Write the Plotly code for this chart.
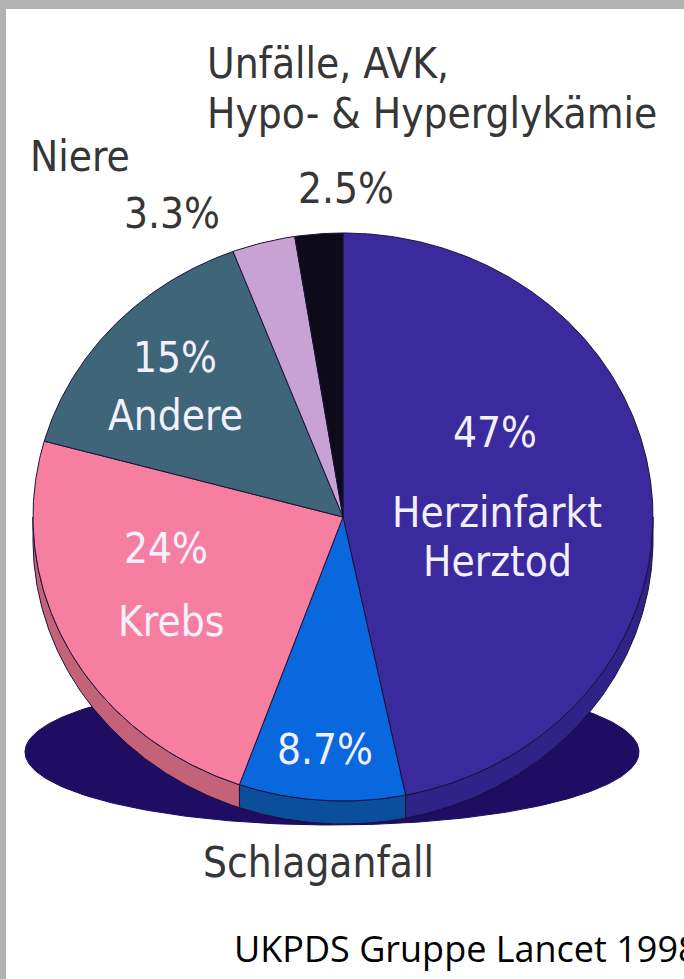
import numpy as np
import plotly.graph_objects as go

# ---------------- data ----------------
categories = ["Herzinfarkt Herztod", "Schlaganfall", "Krebs", "Andere", "Niere",
              "Unfälle, AVK, Hypo- & Hyperglykämie"]
values = [47, 8.7, 24, 15, 3.3, 2.5]
name_lines = [["Herzinfarkt", "Herztod"], ["Schlaganfall"], ["Krebs"], ["Andere"],
              ["Niere"], ["Unfälle, AVK,", "Hypo- & Hyperglykämie"]]
source_text = "UKPDS Gruppe Lancet 1998"

# ---------------- styles / layout ----------------
W, H = 684, 979
top_colors = ["#3b2a9e", "#0a68de", "#f67fa1", "#3e6578", "#c8a2d2", "#0d0b1a"]
side_colors = ["#2f2388", "#0b4f9c", "#c4627a", "#34505e", "#a080aa", "#050510"]
edge_color = "#1a1238"
base_color = "#1f0c63"
CX, CY, RX, RY, DEPTH = 343, 517, 310, 284, 23          # pie geometry (px)
BX, BY, BRX, BRY = 332, 752, 307, 73                    # base ellipse (px)
IN_COL, OUT_COL = "#f2f0fc", "#363636"
LABEL_FONT = "DejaVu Sans Condensed, DejaVu Sans, sans-serif"
FS = 42

pct_pos = [(495, 432), (325, 749), (166, 548), (175, 357), (172, 213), (346, 188)]
pct_inside = [True, True, True, True, False, False]
name_pos = [[(497, 512), (497, 561)], [(318, 862)], [(171, 621)], [(175, 415)],
            [(80, 156)], [(205, 63), (205, 113)]]
name_inside = [True, False, True, True, False, False]
name_xanchor = ["center", "center", "center", "center", "center", "left"]


def ell(cx, cy, rx, ry, th):
    return cx + rx * np.sin(th), cy - ry * np.cos(th)


fig = go.Figure()

# base ellipse
t = np.linspace(0, 2 * np.pi, 361)
bx, by = ell(BX, BY, BRX, BRY, t)
fig.add_trace(go.Scatter(x=bx, y=by, mode="lines", fill="toself", fillcolor=base_color,
                         line=dict(color=base_color, width=1), hoverinfo="skip",
                         showlegend=False))

total = float(sum(values))
bounds = np.concatenate([[0], np.cumsum(values)]) / total * 2 * np.pi

# sides (visible lower half)
for i in range(len(values)):
    a0 = max(bounds[i], np.pi / 2)
    a1 = min(bounds[i + 1], 3 * np.pi / 2)
    if a1 <= a0:
        continue
    n = max(4, int((a1 - a0) / (2 * np.pi) * 720))
    tt = np.linspace(a0, a1, n)
    xt, yt = ell(CX, CY, RX, RY, tt)
    xs = np.concatenate([xt, xt[::-1], xt[:1]])
    ys = np.concatenate([yt, yt[::-1] + DEPTH, yt[:1]])
    fig.add_trace(go.Scatter(x=xs, y=ys, mode="lines", fill="toself",
                             fillcolor=side_colors[i],
                             line=dict(color=edge_color, width=1),
                             hoverinfo="skip", showlegend=False))

# top surface slices
for i in range(len(values)):
    a0, a1 = bounds[i], bounds[i + 1]
    n = max(4, int((a1 - a0) / (2 * np.pi) * 720))
    tt = np.linspace(a0, a1, n)
    xt, yt = ell(CX, CY, RX, RY, tt)
    xs = np.concatenate([[CX], xt, [CX]])
    ys = np.concatenate([[CY], yt, [CY]])
    fig.add_trace(go.Scatter(x=xs, y=ys, mode="lines", fill="toself",
                             fillcolor=top_colors[i],
                             line=dict(color=edge_color, width=1),
                             name=categories[i], hoverinfo="skip", showlegend=False))

ann = []
for i, v in enumerate(values):
    px, py = pct_pos[i]
    ann.append(dict(x=px, y=py, xref="x", yref="y", text=f"{v:g}%", showarrow=False,
                    xanchor="center", yanchor="middle",
                    font=dict(family=LABEL_FONT, size=FS,
                              color=IN_COL if pct_inside[i] else OUT_COL)))
    for line, (lx, ly) in zip(name_lines[i], name_pos[i]):
        ann.append(dict(x=lx, y=ly, xref="x", yref="y", text=line, showarrow=False,
                        xanchor=name_xanchor[i], yanchor="middle",
                        font=dict(family=LABEL_FONT, size=FS,
                                  color=IN_COL if name_inside[i] else OUT_COL)))

ann.append(dict(x=232, y=948, xref="x", yref="y", text=source_text, showarrow=False,
                xanchor="left", yanchor="middle",
                font=dict(family="Open Sans, sans-serif", size=36, color="#000000")))

fig.update_layout(
    width=W, height=H, autosize=False,
    margin=dict(l=6, r=0, t=9, b=0, pad=0),
    paper_bgcolor="#b2b2b2", plot_bgcolor="#ffffff",
    xaxis=dict(range=[6, W], visible=False, fixedrange=True),
    yaxis=dict(range=[H, 9], visible=False, fixedrange=True),
    annotations=ann,
)

fig.write_html("out.html")
